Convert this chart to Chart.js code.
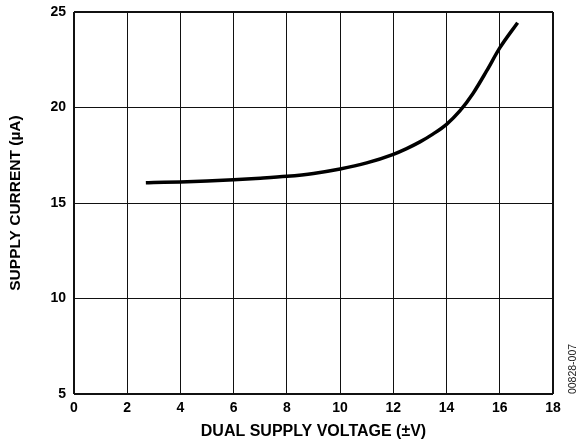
<!DOCTYPE html>
<html>
<head>
<meta charset="utf-8">
<script src="https://cdn.jsdelivr.net/npm/chart.js@4"></script>
<style>
	html, body { margin: 0; padding: 0; background: #fff; }
</style>
</head>
<body>
<canvas id="chart" width="581" height="445"></canvas>
<script>
const voltage = [2.7, 3, 4, 5, 6, 7, 8, 9, 10, 11, 12, 12.5, 13, 13.5, 14, 14.5, 15, 15.5, 16, 16.67];
const current = [16.06, 16.07, 16.1, 16.15, 16.22, 16.3, 16.4, 16.55, 16.78, 17.1, 17.55, 17.85, 18.2, 18.62, 19.12, 19.82, 20.75, 21.9, 23.12, 24.44];
const xTitle = 'DUAL SUPPLY VOLTAGE (±V)';
const yTitle = 'SUPPLY CURRENT (µA)';
const figId = '00828-007';

const font = 'Liberation Sans, Arial, sans-serif';

// small rotated figure number at the right edge
const figIdPlugin = {
	id: 'figId',
	afterDraw(chart) {
		const ctx = chart.ctx;
		ctx.save();
		ctx.translate(573, 369);
		ctx.rotate(-Math.PI / 2);
		ctx.font = '10.5px ' + font;
		ctx.fillStyle = '#222';
		ctx.textAlign = 'center';
		ctx.textBaseline = 'middle';
		ctx.fillText(figId, 0, 0);
		ctx.restore();
	}
};

function edgeWidth(c, max) {
	return (c.tick && (c.tick.value === max || c.tick.value === c.scale.min)) ? 2 : 1;
}

new Chart(document.getElementById('chart'), {
	type: 'line',
	data: {
		datasets: [{
			data: voltage.map((v, i) => ({x: v, y: current[i]})),
			borderColor: '#000',
			borderWidth: 3.5,
			pointRadius: 0,
			cubicInterpolationMode: 'monotone',
			fill: false
		}]
	},
	options: {
		responsive: false,
		animation: false,
		devicePixelRatio: 1,
		layout: { padding: { top: 12, right: 28, bottom: 0, left: 0 } },
		plugins: { legend: { display: false }, tooltip: { enabled: false } },
		scales: {
			x: {
				type: 'linear',
				min: 0, max: 18,
				border: { display: false },
				grid: { color: '#111', lineWidth: c => edgeWidth(c, 18), drawTicks: false },
				ticks: { stepSize: 2, padding: 6, color: '#000', font: { family: font, size: 14, weight: 'bold' } },
				title: { display: true, text: xTitle, color: '#000', padding: { top: 0, bottom: 4 }, font: { family: font, size: 16, weight: 'bold' } },
				afterFit: s => { s.height = 51; s.paddingLeft = 0; s.paddingRight = 0; }
			},
			y: {
				min: 5, max: 25,
				border: { display: false },
				grid: { color: '#111', lineWidth: c => edgeWidth(c, 25), drawTicks: false },
				ticks: { stepSize: 5, padding: 8, color: '#000', font: { family: font, size: 14, weight: 'bold' } },
				title: { display: true, text: yTitle, color: '#000', padding: { top: 6, bottom: 0 }, font: { family: font, size: 15.5, weight: 'bold' } },
				afterFit: s => { s.width = 74; s.paddingTop = 0; s.paddingBottom = 0; }
			}
		}
	},
	plugins: [figIdPlugin]
});
</script>
</body>
</html>
